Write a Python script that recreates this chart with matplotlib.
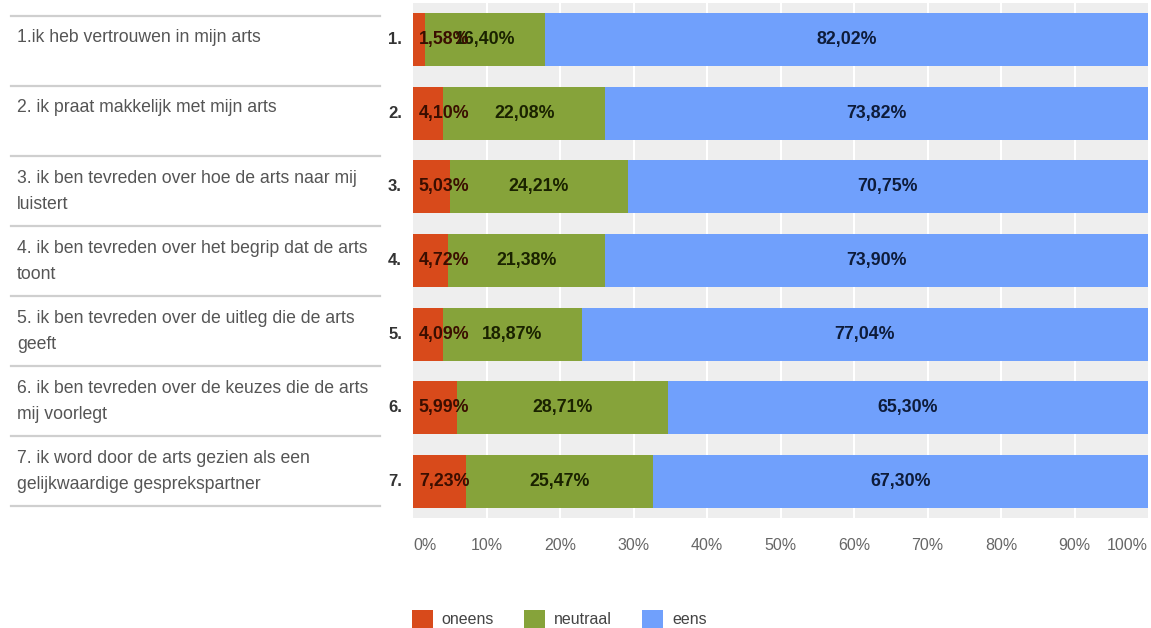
import matplotlib
matplotlib.use("Agg")
import matplotlib.pyplot as plt
from matplotlib.patches import Patch
from matplotlib.lines import Line2D

plt.rcParams['font.family'] = ['Liberation Sans', 'DejaVu Sans']

statements = [
    "1.ik heb vertrouwen in mijn arts",
    "2. ik praat makkelijk met mijn arts",
    "3. ik ben tevreden over hoe de arts naar mij\nluistert",
    "4. ik ben tevreden over het begrip dat de arts\ntoont",
    "5. ik ben tevreden over de uitleg die de arts\ngeeft",
    "6. ik ben tevreden over de keuzes die de arts\nmij voorlegt",
    "7. ik word door de arts gezien als een\ngelijkwaardige gesprekspartner",
]
row_labels = ["1.", "2.", "3.", "4.", "5.", "6.", "7."]
oneens = [1.58, 4.10, 5.03, 4.72, 4.09, 5.99, 7.23]
neutraal = [16.40, 22.08, 24.21, 21.38, 18.87, 28.71, 25.47]
eens = [82.02, 73.82, 70.75, 73.90, 77.04, 65.30, 67.30]
series_names = ["oneens", "neutraal", "eens"]
colors = ["#d84a1b", "#86a33a", "#70a0fc"]
xticks = [0, 10, 20, 30, 40, 50, 60, 70, 80, 90, 100]

W, H = 1151, 628
fig = plt.figure(figsize=(W / 100, H / 100), dpi=100)
fig.patch.set_facecolor("white")

X0, X1 = 413, 1148
ax = fig.add_axes([X0 / W, 1 - 518 / H, (X1 - X0) / W, (518 - 3) / H])
ax.set_facecolor("#eeeeee")
for s in ax.spines.values():
    s.set_visible(False)

ypos = list(range(len(row_labels)))
ax.set_xlim(0, 100)
ax.set_ylim(len(row_labels) - 0.5, -0.5)
for xt in xticks[1:-1]:
    ax.axvline(xt, color="white", lw=1.5, zorder=1)

bh = 0.72
left2 = [a for a in oneens]
left3 = [a + b for a, b in zip(oneens, neutraal)]
ax.barh(ypos, oneens, height=bh, color=colors[0], zorder=2)
ax.barh(ypos, neutraal, left=left2, height=bh, color=colors[1], zorder=2)
ax.barh(ypos, eens, left=left3, height=bh, color=colors[2], zorder=2)

def fmt(v):
    return f"{v:.2f}".replace(".", ",") + "%"

VFS = 12.8
for i in ypos:
    ax.text(0.8, i, fmt(oneens[i]), ha="left", va="center", fontsize=VFS,
            fontweight="bold", color="#3a0e00", zorder=4)
    ax.text(left2[i] + neutraal[i] / 2, i, fmt(neutraal[i]), ha="center", va="center",
            fontsize=VFS, fontweight="bold", color="#1a2200", zorder=3)
    ax.text(left3[i] + eens[i] / 2, i, fmt(eens[i]), ha="center", va="center",
            fontsize=VFS, fontweight="bold", color="#0e1c3a", zorder=3)
    ax.text(-1.5, i, row_labels[i], ha="right", va="center", fontsize=12,
            fontweight="bold", color="#333333")

ax.set_yticks([])
ax.set_xticks(xticks)
ax.set_xticklabels([])
ax.tick_params(axis="x", length=0)
scale = (X1 - X0) / 100.0
for xt in xticks:
    ha = "center"
    if xt == 0:
        ha = "left"
    if xt == 100:
        ha = "right"
    fig.text((X0 + xt * scale) / W, 1 - 546 / H, f"{xt}%",
             ha=ha, va="center", fontsize=11.5, color="#666666")

# left table
for k in range(8):
    yy = 1 - (16 + 70 * k) / H
    fig.add_artist(Line2D([11 / W, 380 / W], [yy, yy], color="#cfcfcf", lw=1.6))
for k, lab in enumerate(statements):
    top = 16 + 70 * k
    n = lab.count("\n") + 1
    yc = top + 22 + (n - 1) * 13.5
    fig.text(17 / W, 1 - yc / H, lab, ha="left", va="center", fontsize=12.7,
             color="#555555", linespacing=1.62)

handles = [Patch(facecolor=c, edgecolor="none") for c in colors]
fig.legend(handles, series_names, loc="center left", bbox_to_anchor=(412 / W, 1 - 619 / H),
           ncol=3, frameon=False, fontsize=11.5, handlelength=1.3, handleheight=1.3,
           handletextpad=0.56, columnspacing=1.9, labelcolor="#444444",
           borderpad=0, borderaxespad=0)

fig.savefig("out.png", dpi=100)
